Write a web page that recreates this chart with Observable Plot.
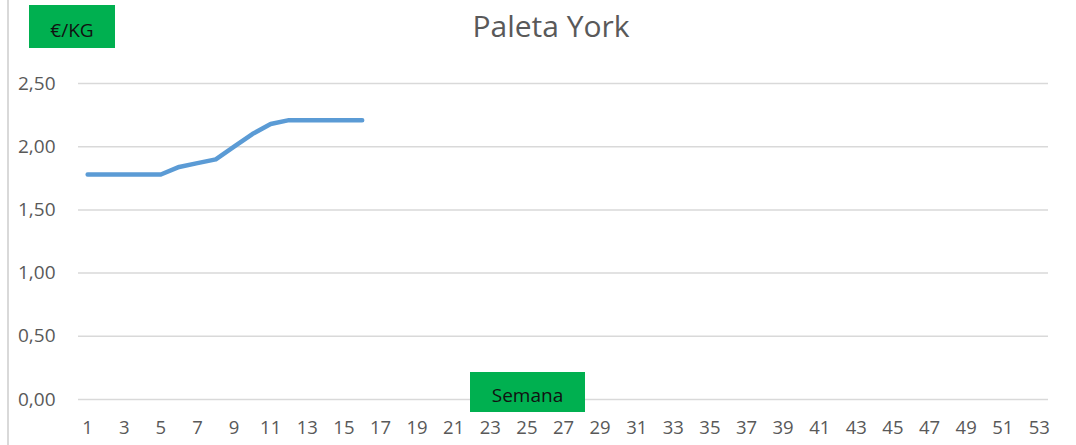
<!DOCTYPE html>
<html>
<head>
<meta charset="utf-8">
<script src="https://cdn.jsdelivr.net/npm/d3@7"></script>
<script src="https://cdn.jsdelivr.net/npm/@observablehq/plot@0.6"></script>
<style>
  html, body { margin: 0; padding: 0; background: #fff; }
  #wrap { position: relative; width: 1076px; height: 445px; overflow: hidden; font-family: "Open Sans", sans-serif; }
  #wrap svg { position: absolute; left: 0; top: 0; }
  .title { position: absolute; left: 0; width: 1102px; top: 6px; text-align: center; font-size: 30px; color: #595959; line-height: 40px; }
  .box { position: absolute; background: #00B050; color: #111; font-size: 19px; display: flex; align-items: center; justify-content: center; padding-top: 6px; box-sizing: border-box; }
  .border { position: absolute; left: 7px; top: 0; width: 2px; height: 445px; background: #d9d9d9; }
</style>
</head>
<body>
<div id="wrap">
  <div class="border"></div>
</div>
<script>
// Data
const weeks = [1, 2, 3, 4, 5, 6, 7, 8, 9, 10, 11, 12, 13, 14, 15, 16];
const prices = [1.78, 1.78, 1.78, 1.78, 1.78, 1.84, 1.87, 1.90, 2.00, 2.10, 2.18, 2.21, 2.21, 2.21, 2.21, 2.21];
const xTicks = d3.range(1, 54, 2);
const yTicks = [0, 0.5, 1.0, 1.5, 2.0, 2.5];
const titleText = "Paleta York";
const yLabel = "€/KG";
const xLabel = "Semana";

const data = weeks.map((w, i) => ({week: w, price: prices[i]}));
const fmt = d => d.toFixed(2).replace(".", ",");

const chart = Plot.plot({
  width: 1076,
  height: 445,
  marginLeft: 78,
  marginRight: 28,
  marginTop: 83,
  marginBottom: 46,
  style: { fontFamily: "Open Sans, sans-serif", color: "#595959", background: "transparent", overflow: "visible" },
  x: { domain: [0.5, 53.5], ticks: xTicks, tickFormat: d => String(d) },
  y: { domain: [0, 2.5], ticks: yTicks, tickFormat: fmt },
  marks: [
    Plot.ruleY(yTicks, { stroke: "#d9d9d9", strokeWidth: 1.5 }),
    Plot.axisX({ ticks: xTicks, tickSize: 0, tickPadding: 21, fontSize: 18.5, fill: "#595959", label: null, tickFormat: d => String(d) }),
    Plot.axisY({ ticks: yTicks, tickSize: 0, tickPadding: 23, fontSize: 19, fill: "#595959", label: null, tickFormat: fmt }),
    Plot.line(data, { x: "week", y: "price", stroke: "#5B9BD5", strokeWidth: 4.5, strokeLinecap: "round", strokeLinejoin: "round" })
  ]
});

const wrap = document.getElementById("wrap");
wrap.appendChild(chart);

const t = document.createElement("div");
t.className = "title";
t.textContent = titleText;
wrap.appendChild(t);

function addBox(text, left, top, w, h) {
  const b = document.createElement("div");
  b.className = "box";
  b.textContent = text;
  Object.assign(b.style, { left: left + "px", top: top + "px", width: w + "px", height: h + "px" });
  wrap.appendChild(b);
}
addBox(yLabel, 29, 5, 86, 43);
addBox(xLabel, 470, 372, 115, 40);
</script>
</body>
</html>
